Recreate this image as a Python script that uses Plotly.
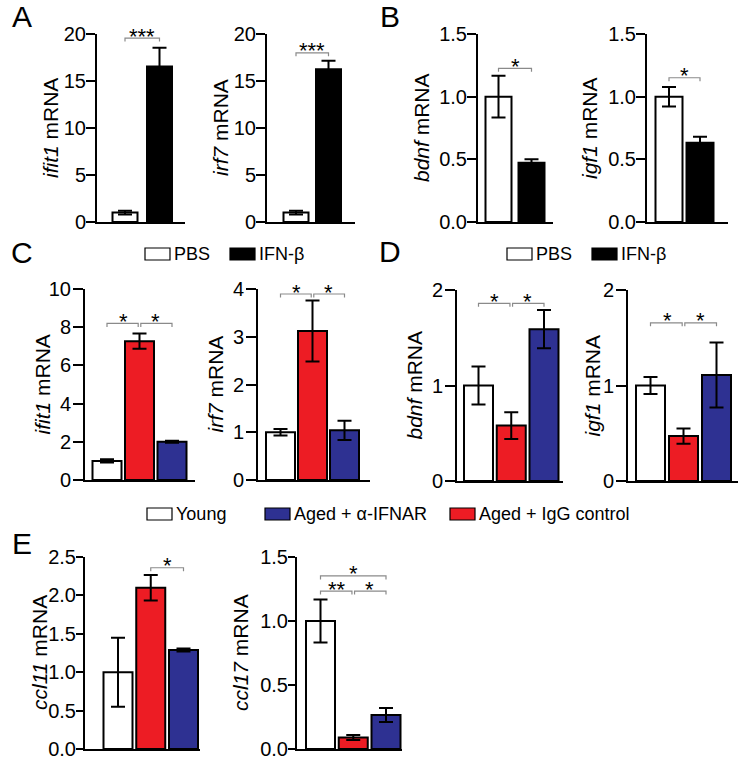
import plotly.graph_objects as go

W, H = 749, 766
FONT = "Arial, Liberation Sans, Helvetica, sans-serif"
RED = "#ED1C24"
BLUE = "#2E3192"

# ---------------- data ----------------
treatments = ["PBS", "IFN-β"]
groups = ["Young", "Aged + IgG control", "Aged + α-IFNAR"]
legend_groups = ["Young", "Aged + α-IFNAR", "Aged + IgG control"]

ifit1_A = [1.0, 16.55]
ifit1_A_err = [0.2, 2.0]
irf7_A = [1.0, 16.25]
irf7_A_err = [0.2, 0.9]

bdnf_B = [1.0, 0.473]
bdnf_B_err = [0.167, 0.027]
igf1_B = [1.0, 0.633]
igf1_B_err = [0.078, 0.048]

ifit1_C = [1.0, 7.27, 2.0]
ifit1_C_err = [0.09, 0.4, 0.05]
irf7_C = [1.0, 3.12, 1.04]
irf7_C_err = [0.07, 0.64, 0.2]

bdnf_D = [1.0, 0.58, 1.59]
bdnf_D_err = [0.2, 0.14, 0.2]
igf1_D = [1.0, 0.47, 1.11]
igf1_D_err = [0.09, 0.08, 0.34]

ccl11_E = [1.0, 2.1, 1.29]
ccl11_E_err = [0.45, 0.165, 0.02]
ccl17_E = [1.0, 0.09, 0.265]
ccl17_E_err = [0.167, 0.02, 0.055]

# significance: (from index, to index, bracket height, label)
sig_ifit1_A = [(0, 1, 19.57, "***")]
sig_irf7_A = [(0, 1, 18.0, "***")]
sig_bdnf_B = [(0, 1, 1.226, "*")]
sig_igf1_B = [(0, 1, 1.151, "*")]
sig_ifit1_C = [(0, 1, 8.2, "*"), (1, 2, 8.2, "*")]
sig_irf7_C = [(0, 1, 3.895, "*"), (1, 2, 3.895, "*")]
sig_bdnf_D = [(0, 1, 1.86, "*"), (1, 2, 1.86, "*")]
sig_igf1_D = [(0, 1, 1.656, "*"), (1, 2, 1.656, "*")]
sig_ccl11_E = [(1, 2, 2.36, "*")]
sig_ccl17_E = [(0, 2, 1.352, "*"), (0, 1, 1.234, "**"), (1, 2, 1.234, "*")]

treat_colors = ["white", "black"]
group_colors = ["white", RED, BLUE]
legend_group_colors = ["white", BLUE, RED]

# ---------------- layout of panels (pixel geometry) ----------------
panels = [
    dict(gene="ifit1", vals=ifit1_A, err=ifit1_A_err, cols=treat_colors, sig=sig_ifit1_A,
         x0=97, x1=185, yt=34, yb=222, c0=125, s=34.5, bw=25, ymax=20, dtick=5, fmt="d",
         tx=51, tf=20, tl=9, so=-4),
    dict(gene="irf7", vals=irf7_A, err=irf7_A_err, cols=treat_colors, sig=sig_irf7_A,
         x0=267, x1=355, yt=34, yb=222, c0=296, s=32.5, bw=25, ymax=20, dtick=5, fmt="d",
         tx=221, tf=20, tl=9, so=-4),
    dict(gene="bdnf", vals=bdnf_B, err=bdnf_B_err, cols=treat_colors, sig=sig_bdnf_B,
         x0=478, x1=553, yt=34, yb=222, c0=498.5, s=33, bw=26, ymax=1.5, dtick=0.5, fmt=".1f",
         tx=422, tf=20, tl=9, so=-4),
    dict(gene="igf1", vals=igf1_B, err=igf1_B_err, cols=treat_colors, sig=sig_igf1_B,
         x0=647, x1=728, yt=34, yb=222, c0=669, s=31, bw=27, ymax=1.5, dtick=0.5, fmt=".1f",
         tx=590, tf=20, tl=9, so=-4),
    dict(gene="ifit1", vals=ifit1_C, err=ifit1_C_err, cols=group_colors, sig=sig_ifit1_C,
         x0=85, x1=195, yt=289, yb=480, c0=107, s=32.5, bw=29, ymax=10, dtick=2, fmt="d",
         tx=42, tf=20, tl=10, so=-2),
    dict(gene="irf7", vals=irf7_C, err=irf7_C_err, cols=group_colors, sig=sig_irf7_C,
         x0=258, x1=370, yt=289, yb=480, c0=280.5, s=32, bw=29, ymax=4, dtick=1, fmt="d",
         tx=215, tf=20, tl=10, so=-2),
    dict(gene="bdnf", vals=bdnf_D, err=bdnf_D_err, cols=group_colors, sig=sig_bdnf_D,
         x0=457, x1=563, yt=290, yb=481, c0=478.5, s=32.75, bw=29, ymax=2, dtick=1, fmt="d",
         tx=414, tf=20, tl=10, so=-2),
    dict(gene="igf1", vals=igf1_D, err=igf1_D_err, cols=group_colors, sig=sig_igf1_D,
         x0=628, x1=738, yt=290, yb=481, c0=650.5, s=33, bw=29, ymax=2, dtick=1, fmt="d",
         tx=592, tf=20, tl=10, so=-2),
    dict(gene="ccl11", vals=ccl11_E, err=ccl11_E_err, cols=group_colors, sig=sig_ccl11_E,
         x0=85, x1=200, yt=557, yb=749, c0=118, s=32.75, bw=29, ymax=2.5, dtick=0.5, fmt=".1f",
         tx=39, tf=20, tl=7, so=-4),
    dict(gene="ccl17", vals=ccl17_E, err=ccl17_E_err, cols=group_colors, sig=sig_ccl17_E,
         x0=297, x1=402, yt=557, yb=749, c0=320.5, s=32.75, bw=29, ymax=1.5, dtick=0.5, fmt=".1f",
         tx=240, tf=20, tl=7, so=-4),
]

def px(x):
    return x / W

def py(y):
    return 1 - y / H

fig = go.Figure()
layout = dict(
    template="none",
    width=W, height=H, autosize=False,
    margin=dict(l=0, r=0, t=0, b=0, pad=0, autoexpand=False),
    paper_bgcolor="white", plot_bgcolor="white",
    showlegend=False,
    font=dict(family=FONT, color="black"),
)
shapes = []
annotations = []

for i, p in enumerate(panels):
    n = i + 1
    xa = "x" if n == 1 else f"x{n}"
    ya = "y" if n == 1 else f"y{n}"
    xk = "xaxis" if n == 1 else f"xaxis{n}"
    yk = "yaxis" if n == 1 else f"yaxis{n}"
    xs = list(range(len(p["vals"])))
    fig.add_trace(go.Bar(
        x=xs, y=p["vals"], xaxis=xa, yaxis=ya,
        width=p["bw"] / p["s"],
        marker=dict(color=p["cols"], line=dict(color="black", width=2)),
        error_y=dict(type="data", array=p["err"], visible=True,
                     color="black", thickness=2, width=7),
        hoverinfo="skip",
    ))
    xr = [(p["x0"] - p["c0"]) / p["s"], (p["x1"] - p["c0"]) / p["s"]]
    layout[xk] = dict(domain=[px(p["x0"]), px(p["x1"])], range=xr, anchor=ya,
                      automargin=False,
                      showline=True, linecolor="black", linewidth=2,
                      showticklabels=False, ticks="", showgrid=False, zeroline=False,
                      fixedrange=True)
    layout[yk] = dict(domain=[py(p["yb"]), py(p["yt"])], range=[0, p["ymax"]], anchor=xa,
                      automargin=False,
                      showline=True, linecolor="black", linewidth=2,
                      ticks="outside", ticklen=p["tl"], tickwidth=2, tickcolor="black",
                      ticklabelstandoff=p["so"],
                      dtick=p["dtick"], tick0=0, tickformat=p["fmt"],
                      tickfont=dict(size=p["tf"], family=FONT, color="black"),
                      showgrid=False, zeroline=False, fixedrange=True)
    # axis title
    annotations.append(dict(
        text=f"<i>{p['gene']}</i> mRNA", textangle=-90,
        x=px(p["tx"]), y=py((p["yt"] + p["yb"]) / 2), xref="paper", yref="paper",
        xanchor="center", yanchor="middle", showarrow=False,
        font=dict(size=21, family=FONT, color="black")))
    # significance brackets
    unit_px = (p["yb"] - p["yt"]) / p["ymax"]
    drop = 3.5 / unit_px
    for (a, b, yv, lab) in p["sig"]:
        xa0 = a + (0.04 if any(s2[1] == a and s2[2] == yv for s2 in p["sig"]) else 0)
        xb0 = b - (0.04 if any(s2[0] == b and s2[2] == yv for s2 in p["sig"]) else 0)
        shapes.append(dict(type="path", xref=xa, yref=ya,
                           path=f"M {xa0},{yv - drop} L {xa0},{yv} L {xb0},{yv} L {xb0},{yv - drop}",
                           line=dict(color="#8a8a8a", width=1.2)))
        annotations.append(dict(text=lab, x=(a + b) / 2, y=yv, xref=xa, yref=ya,
                                xanchor="center", yanchor="middle", yshift=2, showarrow=False,
                                font=dict(size=22, family=FONT, color="black")))

# panel letters
for lab, (cx, cy) in zip(["A", "B", "C", "D", "E"],
                         [(21.5, 17), (390, 17), (21.5, 253), (390, 252), (22, 543)]):
    annotations.append(dict(text=lab, x=px(cx), y=py(cy), xref="paper", yref="paper",
                            xanchor="center", yanchor="middle", showarrow=False,
                            font=dict(size=30, family=FONT, color="black")))

# legends
def add_legend(items, colors, boxes_x, yc):
    for name, col, bx in zip(items, colors, boxes_x):
        shapes.append(dict(type="rect", xref="paper", yref="paper",
                           x0=px(bx), x1=px(bx + 25), y0=py(yc + 6), y1=py(yc - 6),
                           fillcolor=col, line=dict(color="black", width=1.2)))
        annotations.append(dict(text=name, x=px(bx + 27), y=py(yc), xref="paper", yref="paper",
                                xanchor="left", yanchor="middle", showarrow=False,
                                font=dict(size=18, family=FONT, color="black")))

add_legend(treatments, treat_colors, [145, 230], 254)
add_legend(treatments, treat_colors, [507, 592], 254)
add_legend(legend_groups, legend_group_colors, [147, 265, 450], 514)

layout["shapes"] = shapes
layout["annotations"] = annotations
fig.update_layout(**layout)
fig.write_html("out.html", config={"displayModeBar": False, "staticPlot": True},
               post_script="document.body.style.margin='0';document.body.style.padding='0';")
